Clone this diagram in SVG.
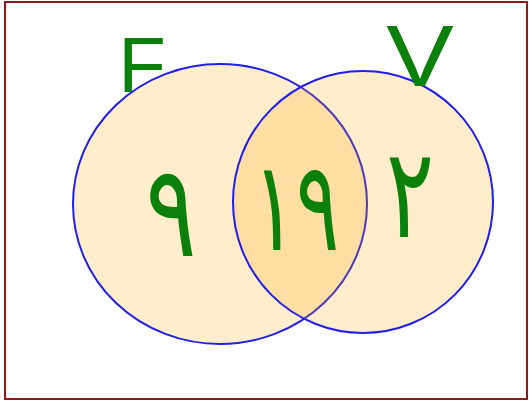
<svg xmlns="http://www.w3.org/2000/svg" width="529" height="403" viewBox="0 0 529 403">
<style>
.set{fill:#FFA500;fill-opacity:0.2;stroke:#1F1FE8;stroke-width:2}
.lbl{fill:#0B800B;font-family:"Liberation Sans",Arial,sans-serif;text-anchor:middle}
.num{fill:#0B800B;font-family:"DejaVu Sans",sans-serif;text-anchor:middle}
</style>
<rect x="5" y="2" width="522" height="397" fill="#FFFFFF" stroke="#8B1A1A" stroke-width="2"/>
<g id="setF">
<ellipse class="set" cx="220" cy="204" rx="147" ry="140"/>
<text class="lbl" x="142" y="92" font-size="78">F</text>
</g>
<g id="setV">
<ellipse class="set" cx="363" cy="202" rx="130" ry="131"/>
<text class="lbl" transform="translate(420,86) scale(1.15,1)" font-size="88">V</text>
</g>
<g id="onlyF"><text class="num" transform="translate(171,256) scale(0.85,1.15)" font-size="112">۹</text></g>
<g id="both"><text class="num" transform="translate(296,250) scale(0.72,1.12)" font-size="112" letter-spacing="-12">۱۹</text></g>
<g id="onlyV"><text class="num" transform="translate(410,237) scale(0.8,1.12)" font-size="112">۲</text></g>
</svg>
